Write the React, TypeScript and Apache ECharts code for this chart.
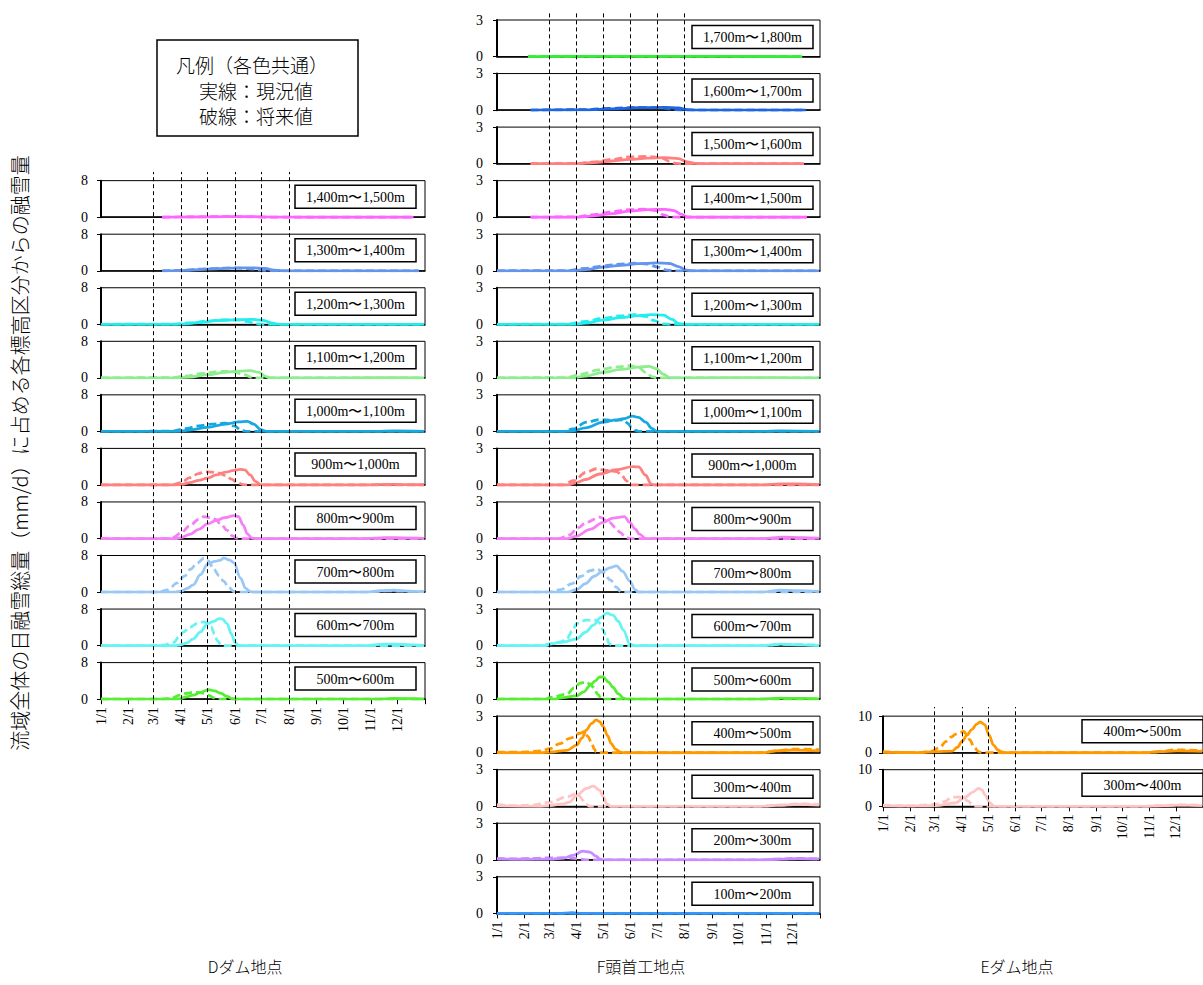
import React, { useEffect, useRef } from "react";
import * as echarts from "echarts";

// ---------- axis / category data ----------
const monthDays = [0, 31, 59, 90, 120, 151, 181, 212, 243, 273, 304, 334];
const monthLabels = ["1/1", "2/1", "3/1", "4/1", "5/1", "6/1", "7/1", "8/1", "9/1", "10/1", "11/1", "12/1"];
const yearDays = 365;
const guideDaysDF = [59, 90, 120, 151, 181, 212];
const guideDaysE = [59, 90, 120, 151];

const dLabels = ["1,400m〜1,500m", "1,300m〜1,400m", "1,200m〜1,300m", "1,100m〜1,200m", "1,000m〜1,100m", "900m〜1,000m", "800m〜900m", "700m〜800m", "600m〜700m", "500m〜600m"];
const fLabels = ["1,700m〜1,800m", "1,600m〜1,700m", "1,500m〜1,600m", "1,400m〜1,500m", "1,300m〜1,400m", "1,200m〜1,300m", "1,100m〜1,200m", "1,000m〜1,100m", "900m〜1,000m", "800m〜900m", "700m〜800m", "600m〜700m", "500m〜600m", "400m〜500m", "300m〜400m", "200m〜300m", "100m〜200m"];
const eLabels = ["400m〜500m", "300m〜400m"];

const dColors = ["#FF66FF", "#6495ED", "#22EEEE", "#8EEE8E", "#18A8E0", "#FF8080", "#F580F5", "#99C8F5", "#66F3F3", "#55EE33"];
const fColors = ["#33EE33", "#1F66E0", "#FF8080", "#FF66FF", "#6495ED", "#22EEEE", "#8EEE8E", "#18A8E0", "#FF8080", "#F580F5", "#99C8F5", "#66F3F3", "#55EE33", "#FF9900", "#FFC4C4", "#C88CFF", "#3399FF"];
const eColors = ["#FF9900", "#FFC4C4"];

// ---------- D dam (mm/d), [day of year, value] ----------
const d1400Now = [[69, 0], [100, 0.05], [140, 0.15], [170, 0.15], [195, 0.02], [230, 0], [352, 0]];
const d1400Fut = [[69, 0], [100, 0.08], [140, 0.15], [165, 0.1], [185, 0], [352, 0]];
const d1300Now = [[69, 0], [90, 0.05], [110, 0.25], [130, 0.45], [150, 0.6], [170, 0.65], [185, 0.5], [195, 0.15], [205, 0], [358, 0]];
const d1300Fut = [[69, 0], [90, 0.1], [110, 0.35], [130, 0.55], [150, 0.65], [165, 0.5], [180, 0.2], [190, 0], [358, 0]];
const d1200Now = [[0, 0], [80, 0], [95, 0.1], [110, 0.4], [130, 0.8], [150, 1.0], [170, 1.1], [182, 0.9], [192, 0.3], [200, 0], [364, 0]];
const d1200Fut = [[0, 0], [80, 0.05], [100, 0.3], [120, 0.7], [140, 1.0], [155, 1.0], [165, 0.6], [175, 0.1], [182, 0], [364, 0]];
const d1100Now = [[0, 0], [85, 0], [100, 0.2], [120, 0.7], [140, 1.2], [155, 1.5], [168, 1.6], [178, 1.2], [186, 0.3], [192, 0], [320, 0.05], [364, 0]];
const d1100Fut = [[0, 0], [80, 0.05], [95, 0.4], [115, 1.0], [135, 1.4], [148, 1.4], [160, 0.8], [170, 0.1], [176, 0], [364, 0]];
const d1000Now = [[0, 0], [85, 0], [100, 0.3], [120, 0.9], [140, 1.6], [155, 2.1], [165, 2.2], [172, 1.6], [180, 0.4], [186, 0], [310, 0], [330, 0.1], [364, 0]];
const d1000Fut = [[0, 0], [80, 0.05], [95, 0.6], [110, 1.2], [125, 1.6], [140, 1.8], [150, 1.2], [158, 0.3], [164, 0], [364, 0]];
const d900Now = [[0, 0], [80, 0], [90, 0.1], [100, 0.5], [110, 1.0], [120, 1.5], [130, 2.2], [140, 2.8], [150, 3.2], [157, 3.4], [162, 3.3], [168, 2.2], [174, 0.8], [180, 0.1], [186, 0], [300, 0], [320, 0.15], [340, 0.1], [364, 0.05]];
const d900Fut = [[0, 0], [75, 0], [82, 0.1], [90, 0.5], [100, 1.6], [110, 2.5], [117, 2.9], [125, 2.8], [133, 2.6], [140, 2.1], [147, 1.3], [153, 0.6], [160, 0.1], [166, 0], [364, 0]];
const d800Now = [[0, 0], [84, 0], [90, 0.2], [100, 0.9], [110, 2.0], [120, 3.2], [130, 4.0], [140, 4.6], [150, 5.0], [155, 4.8], [160, 3.0], [165, 1.0], [170, 0.1], [175, 0], [300, 0], [320, 0.2], [340, 0.15], [364, 0.05]];
const d800Fut = [[0, 0], [75, 0], [82, 0.3], [90, 1.2], [100, 2.8], [110, 4.2], [116, 4.8], [122, 4.6], [128, 4.3], [135, 3.2], [142, 1.8], [148, 0.6], [153, 0.1], [158, 0], [364, 0]];
const d700Now = [[0, 0], [84, 0], [90, 0.2], [97, 0.8], [104, 1.6], [112, 3.8], [120, 6.1], [128, 6.7], [135, 7.0], [138, 7.5], [145, 7.0], [150, 6.4], [157, 3.1], [163, 0.8], [168, 0.1], [172, 0], [300, 0], [315, 0.3], [330, 0.4], [345, 0.2], [364, 0.05]];
const d700Fut = [[0, 0], [60, 0], [66, 0.1], [75, 0.5], [86, 2.0], [94, 3.5], [101, 5.0], [108, 6.3], [116, 7.4], [121, 6.8], [127, 5.0], [133, 3.6], [138, 2.4], [144, 1.0], [150, 0.1], [155, 0], [300, 0], [320, 0.3], [340, 0.2], [364, 0.1]];
const d600Now = [[0, 0], [84, 0], [90, 0.2], [97, 0.6], [104, 1.5], [112, 3.0], [120, 4.8], [127, 5.3], [133, 5.9], [137, 5.8], [142, 4.8], [147, 2.5], [151, 0.7], [155, 0], [300, 0], [315, 0.3], [330, 0.35], [350, 0.15], [364, 0.05]];
const d600Fut = [[0, 0], [60, 0], [70, 0.1], [82, 0.7], [88, 2.0], [93, 3.0], [100, 4.0], [108, 4.8], [116, 5.2], [120, 4.9], [124, 4.1], [128, 2.5], [131, 1.1], [135, 0.2], [138, 0], [364, 0]];
const d500Now = [[0, 0], [84, 0], [89, 0.1], [96, 0.5], [104, 0.9], [112, 1.5], [121, 2.1], [128, 1.8], [135, 1.3], [142, 0.6], [148, 0.1], [152, 0], [310, 0], [330, 0.15], [350, 0.1], [364, 0]];
const d500Fut = [[0, 0], [70, 0], [79, 0.2], [89, 0.9], [97, 1.3], [104, 1.5], [110, 1.5], [116, 1.3], [122, 0.8], [127, 0.3], [132, 0], [364, 0]];

// ---------- F head works ----------
const f1700Now = [[35, 0], [120, 0.02], [200, 0.02], [345, 0]];
const f1700Fut = [[35, 0], [150, 0.02], [345, 0]];
const f1600Now = [[38, 0], [100, 0.02], [130, 0.1], [160, 0.2], [190, 0.22], [205, 0.18], [215, 0.05], [225, 0], [349, 0]];
const f1600Fut = [[38, 0], [100, 0.04], [130, 0.15], [160, 0.22], [185, 0.2], [200, 0.05], [210, 0], [349, 0]];
const f1500Now = [[38, 0], [90, 0], [110, 0.1], [130, 0.22], [150, 0.35], [170, 0.45], [190, 0.5], [205, 0.42], [215, 0.15], [224, 0.02], [232, 0], [347, 0]];
const f1500Fut = [[38, 0], [90, 0.02], [110, 0.15], [130, 0.35], [150, 0.55], [168, 0.6], [185, 0.5], [195, 0.2], [203, 0.02], [210, 0], [347, 0]];
const f1400Now = [[38, 0], [90, 0], [110, 0.12], [130, 0.3], [150, 0.5], [170, 0.62], [190, 0.65], [200, 0.55], [208, 0.25], [215, 0.03], [222, 0], [350, 0]];
const f1400Fut = [[38, 0], [90, 0.03], [110, 0.22], [130, 0.45], [150, 0.62], [165, 0.66], [180, 0.55], [188, 0.2], [196, 0.02], [203, 0], [350, 0]];
const f1300Now = [[0, 0], [85, 0], [100, 0.1], [120, 0.3], [140, 0.45], [160, 0.58], [180, 0.65], [195, 0.6], [205, 0.35], [213, 0.08], [220, 0], [364, 0]];
const f1300Fut = [[0, 0], [80, 0.02], [100, 0.2], [120, 0.4], [140, 0.55], [155, 0.62], [170, 0.55], [182, 0.3], [192, 0.05], [200, 0], [364, 0]];
const f1200Now = [[0, 0], [85, 0], [100, 0.1], [120, 0.35], [140, 0.55], [160, 0.72], [175, 0.8], [188, 0.75], [198, 0.4], [205, 0.08], [212, 0], [364, 0]];
const f1200Fut = [[0, 0], [80, 0.02], [100, 0.25], [120, 0.5], [140, 0.7], [155, 0.8], [168, 0.65], [178, 0.3], [188, 0.03], [195, 0], [364, 0]];
const f1100Now = [[0, 0], [85, 0], [100, 0.15], [120, 0.45], [140, 0.7], [160, 0.88], [172, 0.95], [180, 0.75], [188, 0.3], [195, 0.03], [200, 0], [320, 0.03], [364, 0]];
const f1100Fut = [[0, 0], [78, 0.02], [95, 0.3], [115, 0.65], [135, 0.9], [150, 1.0], [160, 0.85], [168, 0.45], [176, 0.08], [182, 0], [364, 0]];
const f1000Now = [[0, 0], [80, 0], [86, 0.05], [100, 0.3], [120, 0.76], [135, 0.95], [143, 1.04], [153, 1.26], [160, 1.15], [168, 0.76], [175, 0.25], [180, 0.03], [185, 0], [300, 0], [320, 0.05], [364, 0]];
const f1000Fut = [[0, 0], [75, 0], [86, 0.2], [101, 0.76], [116, 0.98], [131, 0.9], [143, 0.95], [148, 0.65], [152, 0.34], [157, 0.08], [161, 0], [364, 0]];
const f900Now = [[0, 0], [80, 0], [90, 0.2], [100, 0.45], [116, 0.9], [135, 1.25], [153, 1.5], [160, 1.48], [168, 0.8], [174, 0.1], [178, 0], [300, 0], [320, 0.1], [340, 0.08], [364, 0.03]];
const f900Fut = [[0, 0], [75, 0], [86, 0.35], [101, 1.05], [112, 1.33], [124, 1.2], [135, 1.1], [141, 0.8], [146, 0.36], [150, 0.08], [153, 0], [364, 0]];
const f800Now = [[0, 0], [80, 0], [90, 0.2], [105, 0.75], [120, 1.33], [131, 1.67], [144, 1.8], [150, 1.33], [156, 0.8], [161, 0.36], [168, 0], [300, 0], [323, 0.12], [345, 0.08], [364, 0.03]];
const f800Fut = [[0, 0], [70, 0], [82, 0.3], [92, 0.9], [101, 1.33], [116, 1.75], [127, 1.33], [134, 0.9], [139, 0.5], [146, 0.08], [150, 0], [364, 0]];
const f700Now = [[0, 0], [80, 0], [90, 0.2], [100, 0.7], [110, 1.3], [120, 1.75], [128, 2.0], [135, 2.15], [142, 1.7], [150, 0.9], [156, 0.2], [160, 0], [300, 0], [320, 0.15], [340, 0.12], [364, 0.05]];
const f700Fut = [[0, 0], [60, 0], [72, 0.2], [85, 0.7], [95, 1.3], [105, 1.75], [113, 1.9], [120, 1.6], [128, 1.0], [135, 0.4], [140, 0.05], [144, 0], [364, 0]];
const f600Now = [[0, 0], [55, 0], [60, 0.14], [75, 0.3], [90, 0.56], [100, 1.1], [109, 1.68], [117, 2.3], [124, 2.66], [131, 2.5], [137, 2.0], [143, 1.26], [150, 0.14], [155, 0], [300, 0], [320, 0.12], [345, 0.06], [364, 0]];
const f600Fut = [[0, 0], [50, 0], [60, 0.14], [72, 0.3], [79, 0.56], [85, 1.2], [90, 1.82], [101, 2.1], [112, 2.1], [117, 1.8], [120, 1.26], [124, 0.6], [127, 0.14], [131, 0], [300, 0], [320, 0.1], [364, 0.05]];
const f500Now = [[0, 0], [65, 0], [71, 0.1], [90, 0.28], [98, 0.6], [105, 1.12], [111, 1.5], [116, 1.82], [120, 1.82], [126, 1.4], [131, 0.98], [137, 0.45], [143, 0.08], [147, 0], [300, 0], [320, 0.08], [345, 0.06], [364, 0.02]];
const f500Fut = [[0, 0], [55, 0], [60, 0.14], [79, 0.42], [87, 0.9], [94, 1.32], [101, 1.4], [105, 1.25], [109, 0.98], [114, 0.4], [118, 0], [364, 0]];
const f400Now = [[0, 0], [50, 0], [60, 0.06], [79, 0.2], [90, 0.62], [96, 1.2], [101, 1.88], [107, 2.4], [112, 2.7], [116, 2.55], [120, 2.16], [125, 1.4], [129, 0.76], [134, 0.3], [139, 0.06], [143, 0], [300, 0], [315, 0.15], [335, 0.22], [364, 0.15]];
const f400Fut = [[0, 0.05], [34, 0.06], [50, 0.15], [60, 0.34], [71, 0.75], [82, 1.18], [94, 1.6], [99, 1.74], [103, 1.3], [107, 0.76], [110, 0.3], [112, 0.06], [116, 0], [300, 0], [315, 0.15], [335, 0.3], [364, 0.25]];
const f300Now = [[0, 0.05], [50, 0], [60, 0.06], [75, 0.2], [82, 0.34], [90, 0.9], [101, 1.46], [109, 1.65], [116, 1.32], [120, 0.8], [124, 0.2], [129, 0], [300, 0], [320, 0.1], [340, 0.15], [364, 0.1]];
const f300Fut = [[0, 0.14], [20, 0.05], [40, 0.1], [60, 0.34], [79, 0.76], [90, 1.04], [94, 0.8], [97, 0.48], [101, 0.15], [105, 0], [300, 0], [320, 0.1], [340, 0.2], [364, 0.15]];
const f200Now = [[0, 0.08], [30, 0.05], [60, 0.06], [75, 0.15], [86, 0.36], [97, 0.72], [105, 0.64], [112, 0.3], [116, 0.08], [120, 0], [300, 0], [320, 0.06], [340, 0.1], [364, 0.08]];
const f200Fut = [[0, 0.12], [20, 0.08], [40, 0.12], [60, 0.17], [79, 0.17], [90, 0.1], [100, 0], [300, 0], [320, 0.08], [340, 0.12], [364, 0.08]];
const f100Now = [[0, 0], [70, 0], [85, 0.06], [95, 0], [364, 0]];
const f100Fut = [[0, 0], [364, 0]];

// ---------- E dam ----------
const e400Now = [[0, 0.1], [40, 0.05], [60, 0.3], [79, 0.46], [85, 1.5], [90, 3.1], [96, 4.8], [101, 6.3], [107, 7.8], [111, 8.4], [116, 7.7], [121, 4.8], [126, 2.1], [131, 0.8], [135, 0.3], [140, 0], [300, 0], [315, 0.3], [335, 0.5], [364, 0.4]];
const e400Fut = [[0, 0.3], [20, 0.1], [42, 0], [56, 0.46], [65, 1.5], [72, 3.1], [78, 4.3], [83, 5.1], [88, 5.6], [92, 5.8], [96, 4.8], [99, 3.5], [104, 1.5], [109, 0.3], [113, 0], [300, 0], [315, 0.3], [335, 0.8], [364, 0.6]];
const e300Now = [[0, 0.2], [40, 0.1], [60, 0.2], [82, 0.9], [94, 2.5], [102, 3.8], [109, 4.9], [113, 4.5], [116, 3.2], [122, 0.9], [127, 0], [300, 0], [320, 0.2], [340, 0.3], [364, 0.2]];
const e300Fut = [[0, 0.3], [30, 0.1], [60, 0.5], [70, 1.3], [79, 2.5], [88, 2.5], [93, 2.0], [97, 1.4], [102, 0.5], [105, 0], [300, 0], [320, 0.2], [340, 0.4], [364, 0.3]];

const dNow = [d1400Now, d1300Now, d1200Now, d1100Now, d1000Now, d900Now, d800Now, d700Now, d600Now, d500Now];
const dFut = [d1400Fut, d1300Fut, d1200Fut, d1100Fut, d1000Fut, d900Fut, d800Fut, d700Fut, d600Fut, d500Fut];
const fNow = [f1700Now, f1600Now, f1500Now, f1400Now, f1300Now, f1200Now, f1100Now, f1000Now, f900Now, f800Now, f700Now, f600Now, f500Now, f400Now, f300Now, f200Now, f100Now];
const fFut = [f1700Fut, f1600Fut, f1500Fut, f1400Fut, f1300Fut, f1200Fut, f1100Fut, f1000Fut, f900Fut, f800Fut, f700Fut, f600Fut, f500Fut, f400Fut, f300Fut, f200Fut, f100Fut];
const eNow = [e400Now, e300Now];
const eFut = [e400Fut, e300Fut];

const yTitle = "流域全体の日融雪総量（mm/d）に占める各標高区分からの融雪量";
const legendLines = ["凡例（各色共通）", "実線：現況値", "破線：将来値"];
const panelTitles = ["Dダム地点", "F頭首工地点", "Eダム地点"];

// ---------- layout ----------
const ROW0 = 20;
const PITCH = 53.55;
const ROWH = 36.6;
const SERIF = "Liberation Serif";
const CJK = "Noto Sans CJK JP";

const panels = [
  { left: 101, width: 324, startRow: 3, labels: dLabels, colors: dColors, now: dNow, fut: dFut, yMax: 8, guides: guideDaysDF, guideTop: 172, boxX: 295, boxDy: 4.5, labelMargin: 13 },
  { left: 497, width: 323, startRow: 0, labels: fLabels, colors: fColors, now: fNow, fut: fFut, yMax: 3, guides: guideDaysDF, guideTop: 12, boxX: 692, boxDy: 5.5, labelMargin: 14 },
  { left: 883, width: 324, startRow: 13, labels: eLabels, colors: eColors, now: eNow, fut: eFut, yMax: 10, guides: guideDaysE, guideTop: 707, boxX: 1082, boxDy: 3.5, labelMargin: 11 },
];

function buildOption() {
  const grid: any[] = [];
  const xAxis: any[] = [];
  const yAxis: any[] = [];
  const series: any[] = [];
  const graphic: any[] = [];

  panels.forEach((p) => {
    const n = p.labels.length;
    for (let i = 0; i < n; i++) {
      const top = ROW0 + PITCH * (p.startRow + i);
      const isBottom = i === n - 1;
      const gi = grid.length;
      grid.push({ left: p.left, top, width: p.width, height: ROWH, show: true, borderColor: "#000", borderWidth: 1, containLabel: false });
      xAxis.push({
        gridIndex: gi, type: "value", min: 0, max: yearDays,
        axisLine: { show: true, onZero: false, lineStyle: { color: "#000", width: 1.5 } },
        axisTick: { show: isBottom, customValues: [...monthDays, yearDays], length: 5, lineStyle: { color: "#000", width: 1 } },
        axisLabel: {
          show: isBottom, customValues: monthDays, rotate: 90, margin: 8, fontSize: 14, fontFamily: SERIF, color: "#000",
          formatter: (v: number) => monthLabels[monthDays.indexOf(v)] ?? "",
        },
        splitLine: { show: false },
      });
      yAxis.push({
        gridIndex: gi, type: "value", min: 0, max: p.yMax, interval: p.yMax,
        axisLine: { show: true, lineStyle: { color: "#000", width: 2 } },
        axisTick: { show: true, length: 4, lineStyle: { color: "#000" } },
        axisLabel: { margin: p.labelMargin, fontSize: 14, fontFamily: SERIF, color: "#000" },
        splitLine: { show: false },
      });
      series.push({
        type: "line", xAxisIndex: gi, yAxisIndex: gi, data: p.fut[i], symbol: "none", showSymbol: false,
        smooth: 0.35, smoothMonotone: "x", silent: true, z: 3,
        lineStyle: { color: p.colors[i], width: 2.8, type: [8, 4] },
      });
      series.push({
        type: "line", xAxisIndex: gi, yAxisIndex: gi, data: p.now[i], symbol: "none", showSymbol: false,
        smooth: 0.35, smoothMonotone: "x", silent: true, z: 4,
        lineStyle: { color: p.colors[i], width: 2.8, type: "solid" },
      });
      const by = top + p.boxDy;
      graphic.push({ type: "rect", z: 100, shape: { x: p.boxX, y: by, width: 121, height: 23 }, style: { fill: "#fff", stroke: "#000", lineWidth: 1.5 } });
      graphic.push({ type: "text", z: 101, x: p.boxX + 60.5, y: by + 12, style: { text: p.labels[i], fontSize: 14, fontFamily: SERIF, fill: "#000", align: "center", verticalAlign: "middle" } });
    }
    // overlay grid for vertical dashed guide lines
    const lastZero = ROW0 + PITCH * (p.startRow + n - 1) + ROWH;
    const gi = grid.length;
    grid.push({ left: p.left, top: p.guideTop, width: p.width, height: lastZero - p.guideTop, show: false });
    xAxis.push({ gridIndex: gi, type: "value", min: 0, max: yearDays, show: false });
    yAxis.push({ gridIndex: gi, type: "value", min: 0, max: 1, show: false });
    series.push({
      type: "line", xAxisIndex: gi, yAxisIndex: gi, data: [[0, -1]], symbol: "none", silent: true, z: 10,
      lineStyle: { opacity: 0 },
      markLine: {
        symbol: "none", silent: true, label: { show: false }, animation: false,
        lineStyle: { color: "#000", type: [4, 3], width: 1 },
        data: p.guides.map((d) => ({ xAxis: d })),
      },
    });
  });

  const cjkText = (text: string, x: number, y: number, size: number, align: string, extra: any = {}) => ({
    type: "text", x, y, ...extra,
    style: { text, fontSize: size, fontFamily: CJK, fontWeight: 300, fill: "#000", align, verticalAlign: "middle" },
  });

  // y-axis title
  graphic.push(cjkText(yTitle, 19, 453, 20, "center", { rotation: Math.PI / 2 }));
  // legend box
  graphic.push({ type: "rect", shape: { x: 157, y: 40, width: 201, height: 96 }, style: { fill: "#fff", stroke: "#000", lineWidth: 1.5 } });
  graphic.push(cjkText(legendLines[0], 176, 64, 19, "left"));
  graphic.push(cjkText(legendLines[1], 199, 90, 19, "left"));
  graphic.push(cjkText(legendLines[2], 199, 115, 19, "left"));
  // panel titles
  const titleX = [245, 641, 1017];
  panelTitles.forEach((t, k) => {
    graphic.push(cjkText(t, titleX[k], 966, 16, "center"));
  });

  return { animation: false, backgroundColor: "#fff", grid, xAxis, yAxis, series, graphic };
}

export default function App() {
  const ref = useRef<HTMLDivElement>(null);
  useEffect(() => {
    if (!ref.current) return;
    const chart = echarts.init(ref.current, undefined, { renderer: "svg" });
    chart.setOption(buildOption() as any);
    return () => chart.dispose();
  }, []);
  return <div ref={ref} style={{ position: "absolute", left: 0, top: 0, width: 1203, height: 985, background: "#fff" }} />;
}
